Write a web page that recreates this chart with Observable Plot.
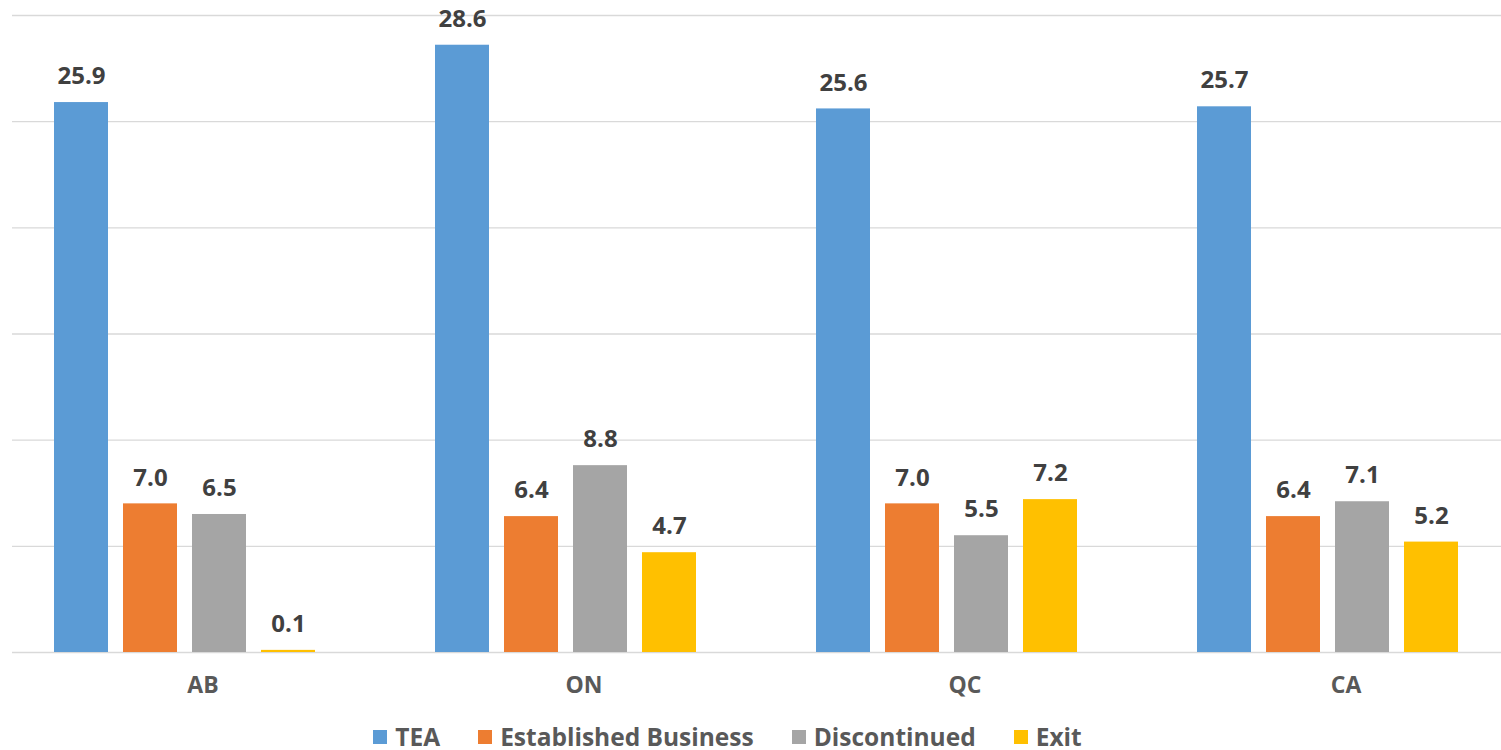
<!DOCTYPE html>
<html>
<head>
<meta charset="utf-8">
<script src="https://cdn.jsdelivr.net/npm/d3@7"></script>
<script src="https://cdn.jsdelivr.net/npm/@observablehq/plot@0.6"></script>
<style>
  html, body { margin: 0; padding: 0; background: #fff; overflow: hidden; }
  #chart svg { display: block; }
  #chart g[aria-label="fx-axis tick label"] { font-size: 23px !important; font-weight: bold; }
  #legend { font-family: "Open Sans", sans-serif; }
  #legend > div { justify-content: center; min-height: 0 !important; height: 30px; margin: 8px 0 0 0; padding-right: 46px;
    font-family: "Open Sans", sans-serif; font-size: 24.5px; font-weight: bold; color: #595959; }
  #legend [class$="-swatch"] { margin-right: 38px !important; }
  #legend [class$="-swatch"]:last-child { margin-right: 0 !important; }
  #legend [class$="-swatch"] svg { margin-right: 8px !important; }
</style>
</head>
<body>
<div id="chart"></div>
<div id="legend"></div>
<script>
const groups = ["AB", "ON", "QC", "CA"];
const series = ["TEA", "Established Business", "Discontinued", "Exit"];
const teaValues = [25.9, 28.6, 25.6, 25.7];
const establishedValues = [7.0, 6.4, 7.0, 6.4];
const discontinuedValues = [6.5, 8.8, 5.5, 7.1];
const exitValues = [0.1, 4.7, 7.2, 5.2];
const yTicks = [0, 5, 10, 15, 20, 25, 30];
const colors = ["#5B9BD5", "#ED7D31", "#A5A5A5", "#FFC000"];

const seriesValues = [teaValues, establishedValues, discontinuedValues, exitValues];
const data = groups.flatMap((g, i) => series.map((s, j) => ({group: g, series: s, value: seriesValues[j][i]})));

const chart = Plot.plot({
  width: 1501,
  height: 712,
  marginLeft: 11,
  marginRight: -35,
  marginTop: 15,
  marginBottom: 60,
  style: {fontFamily: "'Open Sans', sans-serif", background: "#fff"},
  fx: {domain: groups, padding: 0, label: null},
  x: {domain: series, paddingInner: 0.22, paddingOuter: 0.861, align: 0.352, axis: null},
  y: {domain: [0, 30], axis: null},
  color: {domain: series, range: colors},
  marks: [
    Plot.gridY(yTicks, {stroke: "#d9d9d9", strokeOpacity: 1, strokeWidth: 1.3}),
    Plot.barY(data, {fx: "group", x: "series", y: "value", fill: "series"}),
    Plot.text(data, {fx: "group", x: "series", y: "value", text: d => d.value.toFixed(1), dy: -26,
      fontSize: 24, fontWeight: "bold", fill: "#404040"}),
    Plot.axisFx({anchor: "bottom", tickSize: 0, tickPadding: 24, fontSize: 23, fontWeight: "bold", color: "#595959", label: null})
  ]
});
document.getElementById("chart").appendChild(chart);

const legend = Plot.legend({
  color: {domain: series, range: colors},
  legend: "swatches",
  swatchSize: 14
});
document.getElementById("legend").appendChild(legend);
</script>
</body>
</html>
